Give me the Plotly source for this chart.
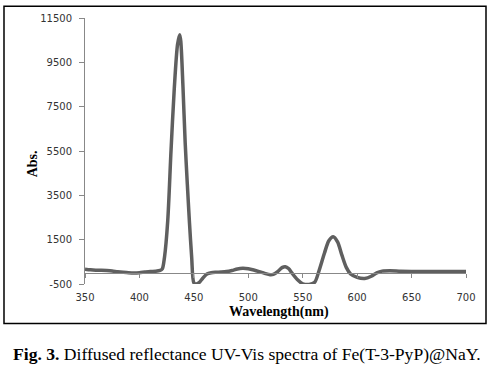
import plotly.graph_objects as go

wavelength = [350, 355, 360, 365, 370, 375, 380, 385, 390, 395, 400, 405, 410, 415, 419,
              421, 423, 426, 429, 432, 435, 437, 438, 440, 442, 444, 446, 448, 450, 452,
              455, 458, 462, 466, 470, 475, 480, 485, 490, 495, 500, 505, 510, 515, 520,
              523, 527, 531, 534, 537, 540, 545, 550, 556, 561, 565, 570, 574, 578, 582,
              586, 590, 594, 600, 607, 613, 618, 623, 630, 640, 650, 660, 670, 680, 690, 700]
absorbance = [170, 140, 125, 120, 105, 85, 55, 30, 10, 0, 10, 40, 65, 75, 110,
              180, 700, 2350, 5500, 8300, 10300, 10750, 10450, 8400, 5900, 4000, 2250, 700, -450, -500,
              -430, -250, -50, 10, 30, 40, 60, 110, 180, 205, 185, 130, 60, -20, -85,
              -70, 60, 240, 280, 200, 0, -300, -490, -520, -420, 100, 900, 1450, 1630, 1400,
              800, 250, -50, -200, -250, -150, 0, 80, 95, 75, 68, 65, 65, 65, 65, 65]

x_ticks = [350, 400, 450, 500, 550, 600, 650, 700]
y_ticks = [-500, 1500, 3500, 5500, 7500, 9500, 11500]

fig = go.Figure()
fig.add_trace(go.Scatter(x=wavelength, y=absorbance, mode='lines',
                         line=dict(color='#5f5f5f', width=3.5, shape='spline', smoothing=0.8),
                         xaxis='x', yaxis='y', showlegend=False, hoverinfo='x+y'))
fig.add_trace(go.Scatter(x=wavelength, y=absorbance, mode='lines', opacity=0,
                         line=dict(width=0), xaxis='x2', yaxis='y', showlegend=False,
                         hoverinfo='skip'))

tickfont = dict(family='DejaVu Sans', size=10, color='#333333')
fig.update_layout(
    width=488, height=368,
    margin=dict(l=85, r=22, t=15, b=84),
    paper_bgcolor='white', plot_bgcolor='white',
    xaxis=dict(range=[350, 700], anchor='free', position=500 / 12000,
               showline=True, linecolor='#888888', linewidth=1,
               ticks='outside', ticklen=4, tickcolor='#888888',
               tickvals=x_ticks, showticklabels=False,
               showgrid=False, zeroline=False),
    xaxis2=dict(range=[350, 700], overlaying='x', side='bottom', anchor='y',
                tickvals=x_ticks, ticktext=[str(v) for v in x_ticks],
                tickfont=tickfont, showline=False, ticks='', ticklabelstandoff=6,
                showgrid=False, zeroline=False),
    yaxis=dict(range=[-500, 11500], tickvals=y_ticks, ticktext=[str(v) for v in y_ticks],
               tickfont=tickfont, showline=True, linecolor='#888888', linewidth=1,
               ticks='outside', ticklen=5, tickcolor='#888888', ticklabelstandoff=5,
               showgrid=False, zeroline=False),
    annotations=[
        dict(text='<b>Abs.</b>', xref='paper', yref='paper', x=-0.139, y=0.45,
             xanchor='center', yanchor='middle', textangle=-90, showarrow=False,
             font=dict(family='Liberation Serif', size=14, color='black')),
        dict(text='<b>Wavelength(nm)</b>', xref='paper', yref='paper', x=0.508, y=-0.105,
             xanchor='center', yanchor='middle', showarrow=False,
             font=dict(family='Liberation Serif', size=14, color='black')),
        dict(text='<b>Fig. 3.</b> Diffused reflectance UV-Vis spectra of Fe(T-3-PyP)@NaY.',
             xref='paper', yref='paper', x=0.4265, y=-0.264,
             xanchor='center', yanchor='middle', showarrow=False,
             font=dict(family='Liberation Serif', size=17.6, color='black')),
    ],
    shapes=[
        dict(type='rect', xref='paper', yref='paper', x0=-0.2126, x1=1.0525,
             y0=-0.1487, y1=1.0446, line=dict(color='black', width=1.5)),
    ],
)

fig.write_html('out.html', config={'displayModeBar': False},
               post_script="document.body.style.margin='0';")
